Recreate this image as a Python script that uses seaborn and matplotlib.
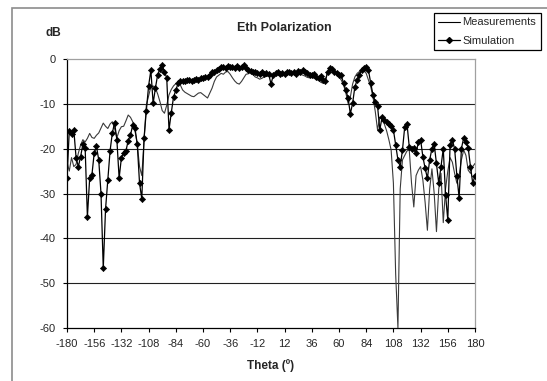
import numpy as np
import pandas as pd
import matplotlib
matplotlib.use("Agg")
import matplotlib.pyplot as plt
from matplotlib.lines import Line2D
from matplotlib.patches import Rectangle
import seaborn as sns

sns.set_style("white")
plt.rcParams['font.family'] = ['Liberation Sans', 'DejaVu Sans']

# Angle grid (degrees), sampled every 2 degrees
THETA = list(range(-180, 181, 2))

SIMULATION = [
    -26.6, -16.0, -16.8, -15.8, -22.0, -24.0, -21.8, -19.0, -19.8, -35.2,
    -26.6, -25.8, -21.0, -19.5, -22.5, -30.0, -46.7, -33.5, -27.0, -20.5,
    -16.5, -14.2, -18.0, -26.6, -22.0, -21.0, -20.5, -18.2, -17.0, -14.7,
    -15.5, -19.0, -27.7, -31.2, -17.6, -11.5, -6.0, -2.5, -9.9, -6.5,
    -3.5, -2.2, -1.4, -2.8, -4.2, -15.8, -12.0, -8.5, -7.0, -5.4,
    -5.0, -4.8, -4.9, -4.7, -4.7, -4.8, -4.6, -4.5, -4.6, -4.3,
    -4.2, -4.0, -4.1, -3.5, -3.0, -2.8, -2.5, -2.2, -1.8, -1.7,
    -1.9, -1.6, -1.8, -1.7, -1.9, -1.6, -2.0, -1.8, -1.3, -1.9,
    -2.4, -2.6, -2.9, -3.0, -3.1, -3.3, -3.0, -3.4, -3.2, -3.4,
    -5.6,
    -3.6, -3.2, -3.0, -3.4, -3.1, -3.3, -3.0, -2.9, -3.2, -2.8,
    -3.3, -2.7, -2.8, -2.5, -3.0, -3.2, -3.5, -3.6, -3.4, -4.0,
    -4.2, -3.9, -4.7, -5.0, -2.8, -2.1, -2.3, -2.8, -3.2, -3.5,
    -3.6, -5.4, -6.9, -8.7, -12.2, -9.9, -6.2, -4.7, -3.6, -2.5,
    -1.9, -1.7, -2.5, -5.4, -8.0, -9.5, -10.5, -15.8, -13.0, -13.6,
    -14.0, -14.5, -15.0, -15.8, -19.2, -22.5, -24.0, -20.3, -15.1, -14.5,
    -19.6, -20.0, -19.8, -21.0, -18.6, -18.0, -21.8, -24.4, -26.6, -22.5,
    -20.0, -19.0, -23.3, -27.7, -24.0, -20.0, -30.3, -35.9, -19.2, -18.0,
    -20.0, -26.0, -31.0, -20.0, -17.6, -18.5, -19.8, -24.0, -27.7, -26.0,
]

MEASUREMENTS = [
    -23.0, -25.0, -22.0, -24.0, -23.5, -21.0, -19.2, -18.0, -18.5, -17.7,
    -16.6, -17.5, -17.7, -17.0, -16.5, -15.4, -14.3, -15.0, -15.5, -14.5,
    -14.0, -15.5, -17.6, -16.0, -15.1, -15.0, -13.8, -12.5, -13.0, -14.0,
    -16.0, -19.0, -24.0, -26.0, -18.0, -10.3, -8.3, -6.2, -6.0, -6.5,
    -7.8, -9.5, -11.5, -12.1, -10.3, -8.0, -6.8, -6.0, -5.5, -5.4,
    -5.8, -6.9, -7.4, -7.7, -8.0, -8.3, -8.4, -8.0, -7.6, -7.5,
    -7.9, -8.3, -8.7, -7.6, -6.5, -5.0, -4.0, -3.6, -3.2, -3.4,
    -2.9, -2.8, -3.4, -4.2, -4.9, -5.4, -5.6, -5.0, -4.2, -3.4,
    -3.3, -3.0, -3.4, -4.0, -4.2, -4.5, -4.3, -4.0, -3.9, -3.8,
    -4.0,
    -3.8, -3.6, -3.4, -3.3, -3.5, -3.3, -3.1, -3.3, -3.0, -3.2,
    -3.4, -3.5, -3.4, -3.6, -3.8, -4.1, -4.2, -4.0, -4.3, -4.5,
    -4.8, -5.2, -5.4, -4.5, -3.0, -2.3, -2.5, -2.9, -3.3, -4.0,
    -4.7, -5.8, -7.5, -9.9, -8.5, -5.6, -4.0, -3.2, -2.8, -2.5,
    -2.6, -3.2, -4.7, -6.2, -8.5, -11.7, -15.8, -13.0, -13.5, -14.5,
    -16.0, -18.0, -20.3, -27.7, -48.0, -60.0, -29.0, -22.5, -21.5, -20.5,
    -20.3, -27.7, -33.0, -26.0, -24.8, -24.0, -27.0, -32.0, -38.2, -29.0,
    -24.5, -30.0, -38.5, -29.0, -25.5, -36.5, -29.0, -25.0, -22.0, -23.0,
    -25.5, -27.7, -26.0, -22.5, -20.3, -21.5, -24.8, -25.5, -24.0, -23.3,
]

X_TICKS = [-180, -156, -132, -108, -84, -60, -36, -12, 12, 36, 60, 84, 108, 132, 156, 180]
Y_TICKS = [0, -10, -20, -30, -40, -50, -60]

TITLE = "Eth Polarization"
XLABEL = "Theta (º)"
YLABEL = "dB"
SERIES_NAMES = ["Measurements", "Simulation"]

W, H = 547, 381
fig = plt.figure(figsize=(W / 100, H / 100), dpi=100)
fig.patch.set_facecolor("white")

# outer chart border (gray)
fig.patches.append(Rectangle((12 / W, -0.05), 1.2, 1 - 8 / H + 0.05,
                             transform=fig.transFigure, fill=False,
                             edgecolor="#8c8c8c", linewidth=1.2))

ax = fig.add_axes([67 / W, 1 - 328 / H, (475 - 67) / W, (328 - 59) / H])
ax.set_facecolor("white")

df_meas = pd.DataFrame({"theta": THETA, "db": MEASUREMENTS})
df_sim = pd.DataFrame({"theta": THETA, "db": SIMULATION})

sns.lineplot(data=df_meas, x="theta", y="db", ax=ax, color="#3a3a3a",
             linewidth=0.8, legend=False, sort=False, zorder=3)
sns.lineplot(data=df_sim, x="theta", y="db", ax=ax, color="black",
             linewidth=0.9, marker="D", markersize=3.2, markeredgewidth=0.4,
             markeredgecolor="black", markerfacecolor="black",
             legend=False, sort=False, zorder=4)

ax.set_xlim(-180, 180)
ax.set_ylim(-60, 0)
ax.set_xticks(X_TICKS)
ax.set_yticks(Y_TICKS)
ax.set_xticklabels([str(t) for t in X_TICKS], fontsize=8)
ax.set_yticklabels([str(t) for t in Y_TICKS], fontsize=8)
ax.tick_params(axis="x", direction="out", length=3, width=0.8, color="black", pad=5,
               bottom=True)
ax.tick_params(axis="y", direction="out", length=3, width=0.8, color="black", pad=5,
               left=True)
ax.set_xlabel("")
ax.set_ylabel("")

for yv in Y_TICKS[1:-1]:
    ax.axhline(yv, color="#202020", linewidth=0.8, zorder=1)

for side in ["left", "bottom"]:
    ax.spines[side].set_color("black")
    ax.spines[side].set_linewidth(0.9)
for side in ["top", "right"]:
    ax.spines[side].set_color("#a0a0a0")
    ax.spines[side].set_linewidth(0.9)
    ax.spines[side].set_visible(True)

fig.text(284 / W, 1 - 28 / H, TITLE, ha="center", va="center",
         fontsize=9, fontweight="bold")
fig.text(53 / W, 1 - 33 / H, YLABEL, ha="center", va="center",
         fontsize=8.5, fontweight="bold")
fig.text(271 / W, 1 - 366 / H, XLABEL, ha="center", va="center",
         fontsize=8.5, fontweight="bold")

handles = [
    Line2D([], [], color="black", linewidth=0.8),
    Line2D([], [], color="black", linewidth=0.9, marker="D", markersize=3.0),
]
leg = fig.legend(handles, SERIES_NAMES, loc="upper left",
                 bbox_to_anchor=(434 / W, 1 - 13 / H), bbox_transform=fig.transFigure,
                 frameon=True, fancybox=False, edgecolor="black", framealpha=1,
                 fontsize=8, borderpad=0.4, handlelength=1.95,
                 handletextpad=0.2, labelspacing=0.75, borderaxespad=0)
leg.get_frame().set_linewidth(0.9)

fig.savefig("out.png", dpi=100, facecolor="white")
